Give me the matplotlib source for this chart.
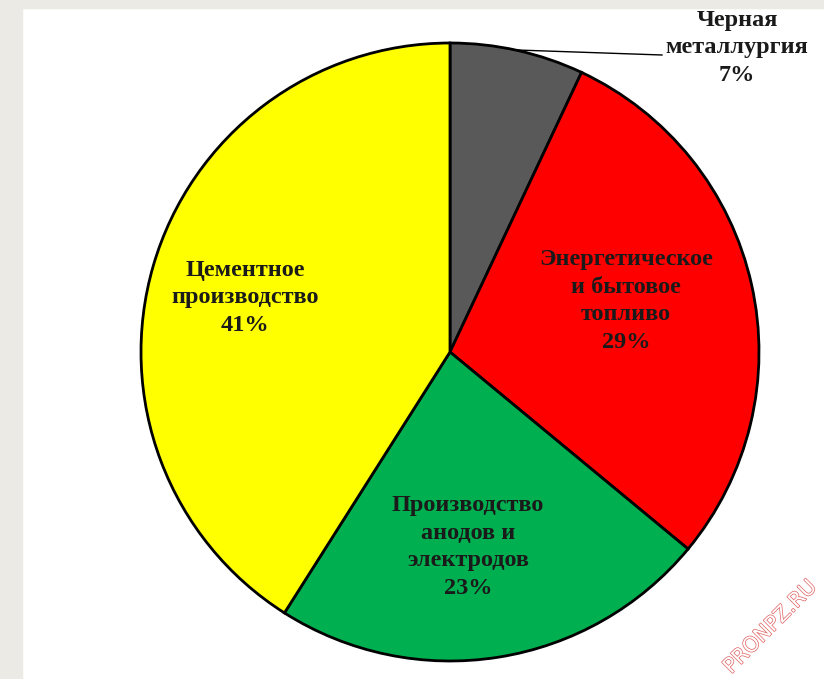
import matplotlib
matplotlib.use("Agg")
import matplotlib.pyplot as plt
import matplotlib.patheffects as pe
from matplotlib.patches import Rectangle

# данные
labels = ["Черная\nметаллургия", "Энергетическое\nи бытовое\nтопливо",
          "Производство\nанодов и\nэлектродов", "Цементное\nпроизводство"]
shares = [7, 29, 23, 41]
colors = ["#595959", "#FF0000", "#00B050", "#FFFF00"]

plt.rcParams['font.family'] = ['Liberation Serif', 'DejaVu Serif']

fig = plt.figure(figsize=(8.24, 6.79), dpi=100)
# серая рамка сверху и слева
fig.patches.append(Rectangle((0, 1 - 8 / 679), 1, 8 / 679, transform=fig.transFigure,
                             color="#ECEAE4", zorder=0))
fig.patches.append(Rectangle((0, 0), 22 / 824, 1, transform=fig.transFigure,
                             color="#ECEAE4", zorder=0))

ax = fig.add_axes([0, 0, 1, 1])
ax.patch.set_alpha(0)
R = 309.0
cx, cy = 450.0, 352.0

ax.pie(shares, colors=colors, startangle=90, counterclock=False, radius=1.0,
       wedgeprops=dict(edgecolor="black", linewidth=2))
ax.set_aspect("auto")
ax.set_xlim((0 - cx) / R, (824 - cx) / R)
ax.set_ylim((cy - 679) / R, cy / R)
ax.axis("off")


def px(x, y):
    return (x - cx) / R, (cy - y) / R


fs = 17.5
ls = 1.43
# подписи внутри секторов
pos = [(737, 48), (626, 301), (468, 547), (245, 298)]
for i in range(1, 4):
    ax.text(*px(*pos[i]), f"{labels[i]}\n{shares[i]}%", ha="center", va="center",
            fontsize=fs, fontweight="bold", color="#1a1a1a", linespacing=ls)

# выноска для черной металлургии
ax.text(*px(*pos[0]), f"{labels[0]}\n{shares[0]}%", ha="center", va="center",
        fontsize=fs, fontweight="bold", color="#1a1a1a", linespacing=ls)
xs, ys = zip(px(517, 50), px(662, 55))
ax.plot(xs, ys, color="black", lw=1)

# водяной знак
t = fig.text(770 / 824, 1 - 627 / 679, "PRONPZ.RU", rotation=45, ha="center", va="center",
             fontsize=15, family="DejaVu Sans", color="white")
t.set_path_effects([pe.withStroke(linewidth=1.0, foreground="#e06060")])

fig.savefig("out.png", dpi=100)
